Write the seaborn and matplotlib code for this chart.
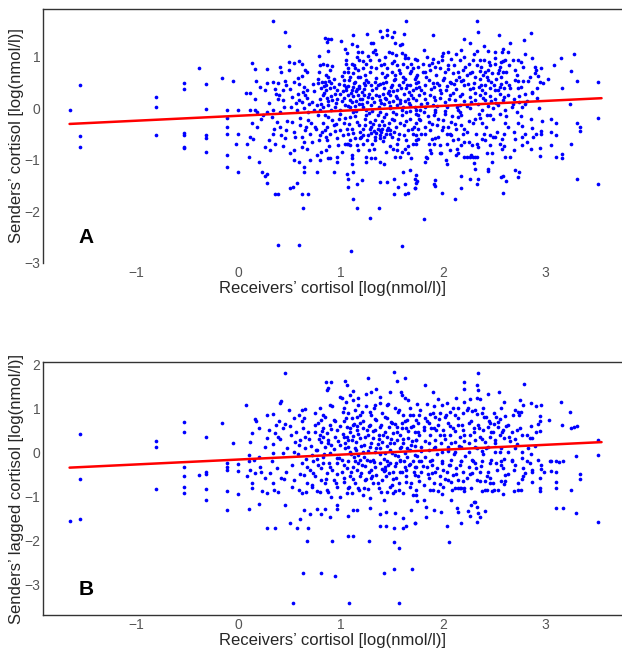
import numpy as np
import pandas as pd
import matplotlib
matplotlib.use("Agg")
import matplotlib.pyplot as plt
import seaborn as sns

# valores (x = cortisol receptor, y = cortisol emissor)
# painel A - pontos isolados a esquerda
a_left = [(-1.65,-0.03),(-1.55,0.46),(-1.55,-0.54),(-1.55,-0.74),(-0.81,0.23),(-0.81,0.03),(-0.81,-0.51),
          (-0.53,0.49),(-0.53,0.38),(-0.53,-0.47),(-0.53,-0.52),(-0.53,-0.74),(-0.53,-0.77),(-0.38,0.78),
          (-0.32,0.47),(-0.32,-0.01),(-0.32,-0.52),(-0.32,-0.57),(-0.32,-0.85),(-0.16,0.59),(-0.11,-0.02),
          (-0.11,-0.19),(-0.11,-0.35),(-0.11,-0.50),(-0.11,-0.90),(-0.11,-1.13),(-0.05,0.54),(0.0,-0.02),
          (0.0,-0.50),(0.0,-1.23),(-0.02,-0.69),(0.07,0.30)]
# painel A - metade superior, x de 0 a 1.8
a_upper_left = [(0.34,1.70),(0.46,1.49),(0.49,1.21),(0.13,0.89),(0.16,0.77),(0.49,0.91),(0.54,0.89),(0.59,0.92),
    (0.62,0.87),(0.28,0.76),(0.41,0.80),(0.42,0.71),(0.49,0.74),(0.65,0.74),(0.67,0.71),(0.17,0.54),(0.21,0.41),
    (0.26,0.36),(0.28,0.49),(0.34,0.52),(0.36,0.38),(0.37,0.29),(0.39,0.50),(0.40,0.26),(0.46,0.53),(0.47,0.45),
    (0.50,0.37),(0.54,0.52),(0.58,0.29),(0.59,0.47),(0.62,0.63),(0.64,0.42),(0.65,0.26),(0.67,0.36),(0.11,0.30),
    (0.16,0.18),(0.11,-0.03),(0.16,-0.03),(0.28,-0.06),(0.34,-0.02),(0.39,0.19),(0.41,-0.06),(0.44,0.16),(0.51,0.03),
    (0.57,-0.03),(0.59,0.17),(0.62,0.13),(0.64,0.00),(0.67,0.21),(0.68,-0.06),(0.79,1.02),(0.80,0.84),(0.79,0.71),
    (0.83,0.87),(0.87,0.84),(0.85,1.36),(0.87,1.29),(0.88,1.34),(0.91,1.35),(0.88,1.12),(0.90,0.74),(0.88,0.61),
    (0.78,0.49),(0.82,0.52),(0.85,0.52),(0.86,0.45),(0.89,0.54),(0.91,0.49),(0.81,0.39),(0.86,0.36),(0.90,0.39),
    (0.93,0.42),(0.94,0.29),(0.83,0.26),(0.80,0.19),(0.87,0.21),(0.92,0.16),(0.96,0.19),(0.77,0.06),(0.83,0.02),
    (0.88,0.06),(0.94,0.03),(0.74,-0.03),(0.80,-0.02),(0.91,-0.03),(0.99,-0.03),(1.00,1.31),(1.04,1.15),(1.06,1.07),
    (1.05,0.87),(1.07,0.78),(1.11,1.25),(1.12,1.42),(1.16,1.21),(1.17,1.10),(1.21,1.09),(1.16,1.00),(1.18,0.95),
    (1.11,0.86),(1.14,0.78),(1.01,0.63),(1.03,0.56),(1.07,0.71),(1.09,0.62),(1.12,0.68),(1.14,0.52),(1.17,0.74),
    (1.19,0.62),(1.22,0.78),(1.24,0.65),(1.03,0.45),(1.05,0.36),(1.07,0.43),(1.11,0.36),(1.12,0.41),(1.16,0.37),
    (1.18,0.43),(1.21,0.32),(1.23,0.49),(0.99,0.29),(1.03,0.21),(1.07,0.26),(1.09,0.17),(1.12,0.24),(1.15,0.15),
    (1.17,0.26),(1.21,0.19),(1.23,0.26),(1.04,0.06),(1.09,0.03),(1.14,0.05),(1.18,0.08),(1.22,0.03),(1.12,-0.06),
    (1.25,-0.03),(1.26,1.44),(1.30,1.28),(1.32,1.28),(1.34,1.13),(1.27,1.02),(1.29,0.95),(1.32,1.10),(1.35,1.05),
    (1.37,0.94),(1.25,0.87),(1.30,0.81),(1.35,0.78),(1.38,1.51),(1.45,1.52),(1.45,1.42),(1.52,1.49),(1.40,1.38),
    (1.50,1.39),(1.53,1.28),(1.58,1.24),(1.60,1.26),(1.47,1.09),(1.50,1.08),(1.54,1.04),(1.60,1.07),(1.63,1.04),
    (1.66,0.99),(1.69,0.87),(1.73,0.97),(1.64,1.70),(1.62,1.44),(1.42,0.87),(1.45,0.78),(1.50,0.89),(1.55,0.84),
    (1.61,0.87),(1.65,0.81),(1.71,0.78),(1.40,0.68),(1.43,0.62),(1.50,0.71),(1.53,0.65),(1.58,0.68),(1.63,0.58),
    (1.68,0.68),(1.74,0.62),(1.27,0.52),(1.30,0.45),(1.34,0.52),(1.35,0.39),(1.38,0.47),(1.42,0.39),(1.44,0.52),
    (1.47,0.34),(1.50,0.45),(1.52,0.55),(1.55,0.36),(1.57,0.45),(1.61,0.52),(1.64,0.39),(1.68,0.45),(1.71,0.36),
    (1.74,0.50),(1.28,0.29),(1.31,0.21),(1.35,0.26),(1.38,0.16),(1.41,0.29),(1.44,0.19),(1.48,0.26),(1.51,0.15),
    (1.54,0.24),(1.58,0.16),(1.62,0.28),(1.66,0.19),(1.69,0.26),(1.74,0.16),(1.30,0.06),(1.37,0.03),(1.42,0.08),
    (1.48,0.00),(1.55,0.06),(1.61,0.02),(1.68,0.06),(1.73,0.03),(1.38,-0.06),(1.51,-0.06),(1.64,-0.06)]
# painel A - metade inferior, x de 0 a 1.8
a_lower_left = [(0.08,-0.68),(0.10,-0.94),(0.11,-0.55),(0.14,-0.60),(0.13,-0.29),(0.18,-0.36),(0.20,-1.04),
    (0.23,-1.23),(0.26,-1.31),(0.28,-1.28),(0.28,-1.44),(0.36,-1.66),(0.39,-1.66),(0.50,-1.55),(0.53,-1.53),
    (0.57,-1.44),(0.62,-1.66),(0.68,-1.66),(0.63,-1.94),(0.64,-1.13),(0.64,-1.23),(0.70,-1.00),(0.77,-1.23),
    (0.93,-1.23),(0.26,-0.74),(0.31,-0.81),(0.36,-0.68),(0.44,-0.73),(0.50,-0.87),(0.54,-1.00),(0.59,-1.04),
    (0.46,-0.58),(0.54,-0.81),(0.62,-0.75),(0.67,-0.78),(0.77,-0.91),(0.80,-1.00),(0.81,-0.84),(0.86,-0.81),
    (0.88,-0.97),(0.90,-0.97),(0.96,-1.04),(0.96,-0.94),(1.06,-1.28),(1.07,-1.36),(1.07,-1.53),(1.11,-0.97),
    (1.11,-1.07),(1.12,-1.23),(1.12,-1.75),(1.16,-1.46),(1.16,-1.94),(1.21,-1.39),(1.25,-0.94),(1.25,-1.04),
    (1.29,-2.12),(1.30,-0.97),(1.34,-0.97),(1.37,-1.94),(1.38,-1.42),(1.38,-1.04),(1.42,-1.07),(1.45,-1.42),
    (1.52,-1.36),(1.52,-1.66),(1.53,-0.94),(1.56,-1.52),(1.58,-0.94),(1.61,-1.23),(1.63,-1.46),(1.63,-1.66),
    (1.66,-1.65),(1.68,-1.19),(1.69,-0.97),(1.73,-1.36),(1.73,-1.55),(1.74,-1.44),(1.66,-0.87),(1.60,-0.84),
    (1.63,-0.78),(1.51,-0.78),(1.55,-0.68),(1.71,-0.68),(1.74,-0.62),(0.18,-0.06),(0.24,-0.13),(0.33,-0.16),
    (0.38,-0.26),(0.41,-0.36),(0.34,-0.49),(0.42,-0.52),(0.47,-0.42),(0.52,-0.26),(0.54,-0.45),(0.60,-0.32),
    (0.62,-0.55),(0.65,-0.42),(0.68,-0.23),(0.70,-0.49),(0.72,-0.65),(0.75,-0.36),(0.78,-0.13),(0.80,-0.52),
    (0.83,-0.29),(0.85,-0.42),(0.87,-0.62),(0.88,-0.16),(0.90,-0.49),(0.93,-0.32),(0.96,-0.58),(0.98,-0.20),
    (0.99,-0.42),(1.03,-0.29),(1.04,-0.68),(1.06,-0.68),(1.07,-0.49),(1.09,-0.16),(1.11,-0.39),(1.14,-0.58),
    (1.16,-0.26),(1.17,-0.81),(1.19,-0.45),(1.22,-0.68),(1.24,-0.32),(1.25,-0.13),(1.27,-0.52),(1.29,-0.39),
    (1.31,-0.68),(1.34,-0.23),(1.35,-0.47),(1.37,-0.32),(1.38,-0.58),(1.40,-0.39),(1.41,-0.63),(1.42,-0.16),
    (1.44,-0.49),(1.47,-0.29),(1.48,-0.42),(1.50,-0.55),(1.52,-0.23),(1.54,-0.36),(1.57,-0.49),(1.60,-0.13),
    (1.62,-0.32),(1.64,-0.62),(1.66,-0.42),(1.68,-0.20),(1.71,-0.49),(1.74,-0.29),(1.76,-0.13),(1.30,-0.36),
    (1.33,-0.43),(1.36,-0.39),(1.39,-0.45),(1.42,-0.32),(1.45,-0.42),(1.48,-0.50),(1.38,-0.52),(1.34,-0.55),
    (1.29,-0.26),(1.07,-0.68),(1.09,-0.71),(1.22,-0.52),(1.19,-0.58),(0.39,-2.66),(0.59,-2.66),(1.10,-2.77),
    (1.60,-2.67)]
# painel A - x de 1.7 a 3.6
a_upper_right = [(2.33,1.70),(2.34,1.49),(1.90,1.42),(2.21,1.35),(2.26,1.28),(2.55,1.42),(2.86,1.46),(2.79,1.33),
    (2.66,1.28),(2.40,1.22),(2.33,1.12),(2.44,1.12),(2.51,1.09),(2.59,1.16),(2.58,1.09),(2.64,1.09),(2.80,1.06),
    (2.87,0.98),(3.15,0.98),(3.28,1.05),(3.09,0.84),(3.25,0.73),(3.31,0.53),(3.52,0.51),(3.03,0.58),(3.16,0.39),
    (3.24,0.08),(2.94,0.00),(2.73,0.94),(2.76,0.90),(2.90,0.81),(2.91,0.74),(2.96,0.78),(2.90,0.68),(2.93,0.63),
    (2.95,0.52),(2.92,0.39),(2.87,0.32),(2.83,0.54),(2.78,0.54),(2.73,0.54),(2.76,0.41),(2.73,0.39),(2.70,0.55),
    (2.70,0.74),(2.65,0.84),(2.61,0.94),(2.57,0.90),(2.56,0.81),(2.59,0.71),(2.54,0.68),(2.51,0.87),(2.46,0.84),
    (2.41,0.71),(2.44,0.74),(2.37,0.80),(2.36,0.94),(2.29,0.94),(2.25,0.87),(2.21,1.00),(2.18,1.13),(2.13,1.05),
    (2.08,0.97),(2.05,1.10),(2.00,1.08),(1.99,0.94),(1.95,0.90),(1.90,0.97),(1.89,0.89),(1.84,1.00),(1.81,1.13),
    (1.80,0.87),(1.75,0.94),(1.76,0.81),(1.82,0.71),(1.87,0.74),(1.92,0.80),(1.97,0.78),(2.02,0.71),(2.05,0.76),
    (2.10,0.68),(2.15,0.71),(2.20,0.74),(2.23,0.65),(2.28,0.71),(2.31,0.62),(2.36,0.58),(2.39,0.65),(2.44,0.56),
    (2.47,0.52),(2.52,0.58),(2.57,0.62),(2.62,0.52),(2.65,0.45),(2.60,0.39),(2.56,0.41),(2.51,0.36),(2.46,0.39),
    (2.41,0.45),(2.38,0.36),(2.35,0.42),(2.30,0.50),(2.26,0.37),(2.21,0.45),(2.18,0.54),(2.13,0.55),(2.11,0.47),
    (2.07,0.52),(2.04,0.43),(2.00,0.55),(1.97,0.36),(1.94,0.50),(1.91,0.42),(1.86,0.55),(1.82,0.45),(1.79,0.36),
    (1.76,0.52),(1.74,0.39),(1.77,0.26),(1.82,0.19),(1.87,0.26),(1.92,0.16),(1.97,0.21),(2.02,0.13),(2.07,0.26),
    (2.12,0.17),(2.17,0.24),(2.21,0.15),(2.26,0.23),(2.31,0.17),(2.36,0.26),(2.41,0.17),(2.46,0.24),(2.51,0.19),
    (2.56,0.28),(2.59,0.16),(2.64,0.26),(2.69,0.19),(2.74,0.24),(2.80,0.28),(2.87,0.30),(2.77,0.03),(2.67,0.03),
    (2.49,0.00),(2.38,-0.03),(2.26,0.00),(2.15,-0.03),(2.04,0.03),(1.92,-0.03),(1.82,0.03),(1.78,-0.03),(2.17,0.06),
    (2.54,0.06),(2.61,-0.03),(2.72,-0.06),(2.80,0.08),(1.90,0.06)]
a_lower_right = [(3.52,-0.18),(3.34,-0.36),(3.34,-0.43),(3.31,-0.29),(3.25,-0.68),(3.16,-0.89),(3.16,-0.97),
    (3.10,-0.94),(3.10,-0.52),(3.06,-0.21),(3.10,-0.29),(3.06,-0.45),(3.06,-0.70),(2.95,-0.76),(2.95,-0.93),
    (2.96,-0.43),(2.96,-0.49),(2.91,-0.50),(2.87,-0.37),(2.86,-0.20),(2.86,-0.78),(2.82,-0.66),(2.80,-0.49),
    (2.77,-0.34),(2.77,-0.55),(2.77,-0.70),(2.73,-0.29),(2.69,-0.45),(2.69,-0.80),(2.66,-0.94),(2.61,-0.94),
    (2.60,-0.73),(2.58,-0.78),(2.56,-0.68),(2.60,-0.49),(2.61,-0.29),(2.62,-0.15),(2.49,-0.56),(2.46,-0.51),
    (2.43,-0.87),(2.48,-1.04),(2.44,-1.17),(2.44,-1.21),(2.41,-0.62),(2.40,-0.49),(2.34,-0.74),(2.33,-0.68),
    (2.31,-0.94),(2.30,-1.06),(2.31,-1.17),(2.34,-1.36),(2.33,-1.47),(2.26,-1.36),(2.27,-0.91),(2.23,-0.94),
    (2.25,-0.65),(2.23,-0.45),(2.21,-0.65),(2.18,-0.71),(2.18,-1.31),(2.18,-1.55),(2.15,-0.87),(2.14,-0.78),
    (2.12,-1.75),(2.08,-0.52),(2.07,-0.49),(2.04,-1.07),(2.03,-1.00),(1.99,-1.65),(1.97,-0.87),(1.92,-1.39),
    (1.91,-1.46),(1.92,-1.51),(1.83,-0.94),(1.82,-1.04),(1.81,-2.14),(1.74,-1.30),(1.75,-1.40),(1.73,-1.55),
    (2.59,-1.31),(2.57,-1.33),(2.62,-1.40),(2.59,-1.65),(2.70,-1.20),(2.74,-1.23),(2.73,-1.33),(3.31,-1.36),
    (3.52,-1.47),(2.48,-0.87),(2.51,-0.56),(2.38,-0.29),(2.36,-0.18),(2.43,-0.13),(2.46,-0.13),(2.31,-0.21),
    (2.29,-0.29),(1.74,-0.10),(1.77,-0.20),(1.76,-0.39),(1.74,-0.52),(1.74,-0.68),(1.79,-0.49),(1.81,-0.07),
    (1.82,-0.36),(1.86,-0.26),(1.87,-0.42),(1.86,-0.68),(1.89,-0.60),(1.91,-0.13),(1.92,-0.07),(1.94,-0.32),
    (1.95,-0.55),(1.99,-0.42),(2.00,-0.23),(2.02,-0.10),(2.04,-0.68),(2.05,-0.36),(2.08,-0.26),(2.10,-0.62),
    (2.13,-0.39),(2.15,-0.16),(2.17,-0.07),(2.18,-0.32),(2.20,-0.50),(1.88,-0.86),(1.84,-0.97),(1.91,-0.68),
    (1.98,-0.87),(2.13,-0.91),(2.21,-0.94),(2.26,-0.94),(2.29,-0.94),(2.33,-0.95)]
# painel A - pontos adicionais no nucleo denso
a_core = [(0.72,0.12),(0.74,0.33),(0.76,-0.40),(0.78,0.58),(0.79,-0.62),(0.71,-0.28),(0.73,0.47),
    (0.81,0.08),(0.82,-0.45),(0.84,0.31),(0.85,-0.12),(0.86,0.66),(0.87,-0.35),(0.88,0.14),(0.89,-0.72),(0.84,0.44),
    (0.86,-0.55),(0.91,0.25),(0.92,-0.22),(0.93,0.58),(0.94,-0.44),(0.95,0.10),(0.96,0.35),(0.97,-0.70),(0.98,0.47),
    (0.99,-0.10),(0.92,0.82),(0.95,-0.30),(1.01,0.15),(1.02,-0.52),(1.03,0.70),(1.04,-0.18),(1.05,0.42),(1.06,-0.40),
    (1.07,0.05),(1.08,0.55),(1.09,-0.62),(1.10,0.30),(1.01,-0.85),(1.05,0.95),(1.08,-0.30),(1.02,0.33),(1.11,0.12),
    (1.12,-0.48),(1.13,0.50),(1.14,-0.15),(1.15,0.33),(1.16,-0.70),(1.17,0.62),(1.18,-0.32),(1.19,0.18),(1.20,-0.55),
    (1.13,0.85),(1.15,-0.05),(1.18,0.40),(1.11,-0.90),(1.21,0.08),(1.22,-0.40),(1.23,0.38),(1.24,-0.20),(1.25,0.55),
    (1.26,-0.62),(1.27,0.22),(1.28,-0.08),(1.29,0.70),(1.30,-0.48),(1.22,0.92),(1.26,0.12),(1.28,-0.80),(1.24,0.45),
    (1.31,0.35),(1.32,-0.30),(1.33,0.12),(1.34,-0.62),(1.35,0.60),(1.36,-0.12),(1.37,0.25),(1.38,-0.42),(1.39,0.85),
    (1.40,-0.25),(1.33,-0.78),(1.36,0.45),(1.31,-0.05),(1.39,0.10),(1.41,0.50),(1.42,-0.55),(1.43,0.20),(1.44,-0.10),
    (1.45,0.65),(1.46,-0.38),(1.47,0.12),(1.48,-0.72),(1.49,0.42),(1.50,-0.20),(1.43,1.00),(1.46,0.30),(1.44,-0.85),
    (1.48,0.05),(1.51,0.33),(1.52,-0.45),(1.53,0.58),(1.54,-0.10),(1.55,0.20),(1.56,-0.60),(1.57,0.75),(1.58,-0.28),
    (1.59,0.40),(1.60,-0.02),(1.52,0.92),(1.55,-0.80),(1.58,0.10),(1.61,0.62),(1.62,-0.52),(1.63,0.15),(1.64,-0.25),
    (1.65,0.45),(1.66,-0.72),(1.67,0.32),(1.68,-0.05),(1.69,0.72),(1.70,-0.40),(1.63,0.98),(1.67,0.10),(1.71,0.20),
    (1.72,-0.35),(1.73,0.58),(1.74,-0.02),(1.75,0.66),(1.76,-0.60),(1.77,0.42),(1.78,-0.22),(1.79,0.08),(1.80,0.70),
    (1.81,0.30),(1.82,-0.50),(1.83,0.62),(1.84,0.10),(1.85,-0.15),(1.86,0.85),(1.87,-0.80),(1.88,0.38),(1.89,-0.30),
    (1.90,0.50),(1.91,0.22),(1.92,-0.58),(1.93,0.65),(1.94,0.05),(1.95,-0.20),(1.96,0.45),(1.97,-0.70),(1.98,0.30),
    (1.99,1.02),(2.00,-0.35),(2.01,0.60),(2.02,-0.05),(2.03,0.36),(2.04,-0.50),(2.05,0.85),(2.06,0.18),(2.07,-0.80),
    (2.08,0.50),(2.09,-0.15),(2.10,0.30),(2.11,0.85),(2.12,-0.30),(2.13,0.38),(2.14,0.02),(2.15,-0.60),(2.16,0.62),
    (2.17,0.95),(2.18,-0.12),(2.19,0.28),(2.20,0.55),(2.21,-0.40),(2.22,0.80),(2.23,0.05),(2.24,0.48),(2.25,-0.25),
    (2.26,0.68),(2.27,0.12),(2.28,-0.70),(2.29,0.40),(2.30,1.05),(2.31,0.30),(2.32,-0.50),(2.33,0.85),(2.34,0.08),
    (2.35,-0.10),(2.36,0.72),(2.37,0.45),(2.38,-0.60),(2.39,0.20),(2.40,0.95),(2.41,0.30),(2.42,-0.35),(2.43,0.62),
    (2.44,0.05),(2.45,0.90),(2.46,-0.70),(2.47,0.15),(2.48,0.68),(2.49,-0.20),(2.50,0.45),(2.51,0.98),(2.52,0.10),
    (2.53,-0.45),(2.54,0.35),(2.55,0.75),(2.56,-0.10),(2.57,0.48),(2.58,-0.60),(2.59,0.92),(2.60,0.22),(2.62,0.70),
    (2.64,-0.35),(2.66,0.40),(2.68,0.08),(2.70,-0.60),(2.72,0.65),(2.74,0.12),(2.76,-0.15),(2.78,0.80),(2.68,0.95),
    (2.82,0.15),(2.85,0.62),(2.88,-0.55),(2.92,0.20),(2.97,-0.25),(2.98,0.50),(0.22,-0.20),(0.30,0.10),(0.35,-0.40),
    (0.45,0.02),(0.48,-0.25),(0.52,0.22),(0.55,-0.55),(0.58,0.60),(0.60,-0.18),(0.63,0.32),(0.66,-0.35),(0.69,0.08),
    (0.30,-0.62),(0.44,0.35),(0.56,0.10),(0.64,-0.65)]

# painel B - pontos isolados a esquerda
b_left = [(-1.65,-1.57),(-1.55,0.42),(-1.55,-0.61),(-1.55,-1.51),(-0.81,0.25),(-0.81,0.11),(-0.81,-0.83),
          (-0.53,0.69),(-0.53,0.45),(-0.53,-0.33),(-0.53,-0.55),(-0.53,-0.80),(-0.53,-0.92),(-0.38,-0.52),
          (-0.32,0.34),(-0.32,-0.45),(-0.32,-0.50),(-0.32,-0.83),(-0.32,-1.09),(-0.16,0.67),(-0.11,-0.25),
          (-0.11,-0.33),(-0.11,-0.41),(-0.11,-0.88),(-0.11,-1.31),(-0.05,0.20),(0.0,-0.27),(0.0,-0.42),
          (0.0,-0.96),(0.07,1.07)]
b_upper_left = [(0.46,1.81),(0.16,0.76),(0.17,0.71),(0.20,0.54),(0.13,0.43),(0.11,0.23),(0.10,-0.06),(0.28,0.33),
    (0.28,0.85),(0.34,0.86),(0.37,0.62),(0.36,0.43),(0.39,0.35),(0.34,0.18),(0.41,1.13),(0.42,1.17),(0.41,0.30),
    (0.46,0.64),(0.44,0.56),(0.49,0.96),(0.51,0.39),(0.54,0.77),(0.55,0.24),(0.59,0.85),(0.62,0.96),(0.65,0.98),
    (0.64,0.77),(0.62,0.71),(0.68,0.47),(0.65,0.35),(0.60,0.28),(0.59,0.17),(0.54,0.00),(0.44,-0.02),(0.34,-0.02),
    (0.26,0.11),(0.20,-0.10),(0.15,-0.18),(0.10,-0.21),(0.75,0.89),(0.80,1.00),(0.81,0.73),(0.86,1.59),(0.91,1.59),
    (0.87,1.42),(0.88,1.45),(0.90,1.08),(0.83,0.85),(0.78,0.66),(0.75,0.47),(0.80,0.39),(0.83,0.54),(0.87,0.43),
    (0.90,0.62),(0.93,0.73),(0.81,0.24),(0.85,0.13),(0.88,0.28),(0.91,0.17),(0.94,0.35),(0.96,0.51),(0.99,0.17),
    (0.77,0.05),(0.83,-0.10),(0.90,-0.02),(0.96,-0.14),(0.72,-0.06),(0.65,0.09),(0.99,1.26),(1.01,1.23),(1.04,1.62),
    (1.06,1.53),(1.05,1.15),(1.09,1.30),(1.12,1.39),(1.12,1.19),(1.17,1.23),(1.03,1.00),(1.07,0.89),(1.11,0.77),
    (1.14,0.96),(1.17,1.07),(1.16,0.81),(1.21,0.92),(1.03,0.70),(1.06,0.58),(1.09,0.47),(1.12,0.62),(1.16,0.51),
    (1.19,0.66),(1.22,0.54),(1.03,0.35),(1.07,0.28),(1.12,0.38),(1.15,0.23),(1.19,0.32),(1.23,0.17),(1.04,0.09),
    (1.09,0.00),(1.14,0.09),(1.17,-0.06),(1.22,0.01),(1.27,1.68),(1.25,1.32),(1.25,1.04),(1.30,1.36),(1.35,1.44),
    (1.38,1.26),(1.34,1.07),(1.38,1.11),(1.30,0.85),(1.35,0.73),(1.40,0.89),(1.45,1.07),(1.48,1.38),(1.52,1.82),
    (1.55,1.62),(1.59,1.38),(1.60,1.30),(1.63,1.68),(1.63,1.23),(1.66,1.19),(1.68,1.00),(1.53,1.00),(1.56,0.92),
    (1.61,0.85),(1.65,0.73),(1.71,0.85),(1.74,0.73),(1.45,0.77),(1.50,0.66),(1.55,0.58),(1.60,0.66),(1.64,0.54),
    (1.69,0.58),(1.73,0.47),(1.29,0.62),(1.34,0.51),(1.38,0.58),(1.43,0.47),(1.27,0.39),(1.32,0.32),(1.37,0.39),
    (1.40,0.24),(1.45,0.35),(1.48,0.20),(1.51,0.43),(1.55,0.28),(1.58,0.39),(1.61,0.20),(1.66,0.32),(1.69,0.17),
    (1.74,0.28),(1.29,0.13),(1.34,0.01),(1.38,0.09),(1.43,-0.02),(1.48,0.05),(1.53,-0.06),(1.58,0.09),(1.63,-0.02),
    (1.68,0.05),(1.73,-0.06),(1.32,-0.17),(1.45,-0.21),(1.58,-0.17),(1.71,-0.21),(1.19,-0.17)]
b_lower_left = [(0.10,-1.30),(0.20,-1.18),(0.28,-1.73),(0.36,-1.73),(0.50,-1.60),(0.57,-1.73),(0.60,-1.51),
    (0.64,-1.31),(0.67,-2.01),(0.68,-1.73),(0.70,-1.41),(0.77,-1.30),(0.81,-1.40),(0.85,-1.30),(0.90,-1.48),
    (0.92,-2.01),(0.96,-1.30),(0.96,-1.20),(1.07,-1.45),(1.07,-1.90),(1.12,-1.90),(1.12,-1.31),(1.16,-1.31),
    (1.28,-2.01),(1.29,-1.27),(1.38,-1.40),(1.38,-1.67),(1.44,-1.67),(1.44,-1.35),(1.52,-2.05),(1.52,-1.73),
    (1.53,-1.39),(1.57,-2.18),(1.61,-1.50),(1.61,-1.73),(1.64,-1.67),(1.69,-1.31),(1.73,-1.60),(1.52,-2.65),
    (1.70,-2.65),(0.46,-1.20),(0.39,-0.91),(0.28,-0.93),(0.23,-0.87),(0.13,-0.82),(0.13,-0.69),(0.08,-0.54),
    (0.11,-0.40),(0.16,-0.48),(0.21,-0.33),(0.26,-0.59),(0.31,-0.48),(0.34,-0.71),(0.38,-0.36),(0.42,-0.59),
    (0.47,-0.44),(0.52,-0.78),(0.54,-0.63),(0.59,-0.86),(0.62,-0.93),(0.64,-0.52),(0.67,-0.71),(0.70,-0.40),
    (0.72,-0.74),(0.75,-0.55),(0.77,-0.87),(0.80,-0.90),(0.81,-0.63),(0.85,-0.71),(0.87,-0.48),(0.88,-0.90),
    (0.91,-1.01),(0.93,-0.63),(0.96,-0.78),(0.99,-1.01),(1.01,-0.44),(1.03,-0.67),(1.06,-0.93),(1.07,-0.82),
    (1.09,-0.55),(1.11,-0.93),(1.14,-0.71),(1.17,-0.82),(1.20,-0.48),(1.22,-0.97),(1.24,-0.63),(1.27,-0.84),
    (1.29,-1.05),(1.30,-0.59),(1.32,-0.71),(1.35,-0.52),(1.37,-0.82),(1.40,-0.63),(1.42,-1.08),(1.45,-0.90),
    (1.47,-0.48),(1.50,-0.74),(1.51,-0.93),(1.54,-0.59),(1.57,-0.86),(1.60,-0.44),(1.61,-0.93),(1.64,-0.67),
    (1.68,-0.78),(1.71,-0.97),(1.73,-0.52),(1.74,-0.86),(0.62,-0.25),(0.67,-0.33),(0.73,-0.21),(0.78,-0.29),
    (0.83,-0.24),(0.90,-0.33),(0.96,-0.25),(1.03,-0.29),(1.07,-0.21),(1.12,-0.33),(1.17,-0.25),(1.24,-0.31),
    (1.29,-0.21),(1.34,-0.34),(1.38,-0.25),(1.43,-0.33),(1.48,-0.24),(1.53,-0.31),(1.58,-0.21),(1.63,-0.34),
    (1.68,-0.27),(1.73,-0.33),(1.30,-0.40),(1.42,-0.42),(1.51,-0.44),(1.64,-0.40),(0.63,-2.74),(0.53,-3.43),
    (1.08,-3.43),(1.57,-3.43),(1.42,-2.74),(0.81,-2.74),(0.94,-2.82)]
b_upper_right = [(2.34,1.81),(2.21,1.59),(2.21,1.44),(2.33,1.53),(2.34,1.42),(2.79,1.56),(2.55,1.38),(2.44,1.32),
    (1.90,1.38),(1.82,1.53),(2.33,1.23),(2.36,1.20),(2.26,1.20),(2.21,1.15),(2.13,1.23),(2.04,1.11),(1.99,1.07),
    (1.91,1.04),(1.84,1.09),(1.75,1.09),(2.60,1.15),(2.75,1.19),(2.78,1.07),(2.86,1.11),(2.91,1.06),(2.96,1.07),
    (3.15,1.14),(3.24,0.92),(3.16,0.62),(3.25,0.54),(3.28,0.58),(3.31,0.60),(3.04,0.73),(2.95,0.83),(2.93,0.64),
    (2.86,0.60),(2.91,0.47),(2.95,0.48),(2.85,0.33),(2.87,0.33),(2.73,0.92),(2.76,0.92),(2.74,0.85),(2.70,0.96),
    (2.61,0.83),(2.57,1.00),(2.56,0.76),(2.52,0.81),(2.50,0.64),(2.46,0.66),(2.42,0.81),(2.39,1.00),(2.38,0.89),
    (2.33,0.86),(2.28,0.94),(2.24,1.01),(2.20,0.89),(2.15,1.00),(2.12,0.85),(2.07,0.92),(2.02,0.81),(1.97,0.89),
    (1.92,0.79),(1.87,0.86),(1.82,0.77),(1.77,0.85),(1.76,0.66),(1.81,0.58),(1.86,0.66),(1.91,0.54),(1.95,0.62),
    (2.00,0.51),(2.05,0.66),(2.10,0.54),(2.15,0.62),(2.20,0.51),(2.25,0.66),(2.30,0.54),(2.34,0.62),(2.39,0.51),
    (2.44,0.58),(2.49,0.47),(2.54,0.58),(2.59,0.51),(2.64,0.62),(2.67,0.47),(2.72,0.51),(2.77,0.39),(2.70,0.30),
    (2.65,0.35),(2.60,0.32),(2.56,0.39),(2.51,0.28),(2.46,0.35),(2.41,0.24),(2.36,0.35),(2.31,0.28),(2.26,0.39),
    (2.21,0.26),(2.17,0.35),(2.12,0.24),(2.07,0.39),(2.02,0.30),(1.97,0.39),(1.92,0.28),(1.87,0.39),(1.82,0.26),
    (1.77,0.39),(1.74,0.28),(1.79,0.13),(1.86,0.05),(1.92,0.13),(1.99,0.01),(2.05,0.11),(2.12,0.00),(2.18,0.11),
    (2.25,0.01),(2.31,0.13),(2.38,0.03),(2.44,0.11),(2.51,0.00),(2.57,0.09),(2.64,0.00),(2.70,0.09),(2.77,0.01),
    (2.83,0.09),(2.93,-0.17),(2.86,-0.05),(3.06,-0.21),(3.13,-0.23),(3.30,-0.08),(3.52,0.27),(3.52,-0.06),
    (2.77,-0.14),(2.67,-0.17),(2.57,-0.21),(2.47,-0.17),(2.38,-0.21),(2.28,-0.17),(2.18,-0.21),(2.08,-0.17),
    (1.99,-0.21),(1.89,-0.17),(1.79,-0.21)]
b_lower_right = [(3.52,-1.58),(3.34,-0.50),(3.34,-0.61),(3.30,-1.39),(3.25,-0.86),(3.17,-1.27),(3.10,-1.27),
    (3.10,-0.82),(3.10,-0.67),(3.10,-0.46),(3.06,-0.43),(3.05,-0.21),(3.17,-0.21),(3.10,-0.21),(2.95,-0.89),
    (2.95,-0.82),(2.95,-0.59),(2.96,-0.39),(2.96,-0.29),(2.87,-0.67),(2.87,-0.40),(2.87,-0.44),(2.82,-0.21),
    (2.80,-0.48),(2.78,-0.36),(2.77,-0.61),(2.76,-0.86),(2.73,-0.86),(2.73,-0.71),(2.69,-0.89),(2.69,-0.40),
    (2.67,-0.21),(2.61,-0.52),(2.61,-0.65),(2.60,-0.72),(2.59,-0.95),(2.59,-0.36),(2.57,-0.29),(2.52,-0.25),
    (2.50,-0.86),(2.48,-0.89),(2.46,-0.71),(2.46,-0.59),(2.44,-0.44),(2.41,-0.65),(2.41,-1.33),(2.43,-0.86),
    (2.38,-0.87),(2.37,-0.31),(2.36,-1.48),(2.34,-1.39),(2.33,-1.58),(2.31,-1.12),(2.33,-1.24),(2.30,-1.12),
    (2.27,-1.21),(2.27,-0.82),(2.26,-1.45),(2.24,-1.33),(2.21,-0.82),(2.21,-0.87),(2.18,-0.82),(2.17,-0.82),
    (2.15,-0.82),(2.15,-1.35),(2.14,-1.26),(2.18,-1.60),(2.08,-1.08),(2.08,-0.67),(2.04,-1.67),(2.06,-2.05),
    (1.98,-1.36),(1.99,-0.95),(1.95,-0.89),(1.91,-1.31),(1.90,-0.86),(1.83,-1.24),(1.83,-1.48),(1.81,-1.08),
    (1.75,-1.10),(1.74,-0.97),(1.73,-1.60),(2.54,-0.86),(2.41,-0.86),(1.74,-0.33),(1.77,-0.21),(1.76,-0.55),
    (1.79,-0.44),(1.81,-0.74),(1.84,-0.33),(1.86,-0.59),(1.87,-0.21),(1.89,-0.48),(1.91,-0.71),(1.94,-0.36),
    (1.97,-0.55),(1.99,-0.25),(2.00,-0.78),(2.04,-0.44),(2.05,-0.63),(2.07,-0.29),(2.10,-0.52),(2.12,-0.82),
    (2.13,-0.36),(2.15,-0.63),(2.18,-0.21),(2.20,-0.44),(2.23,-0.59),(2.25,-0.33),(2.28,-0.48),(2.31,-0.25),
    (2.33,-0.63),(2.36,-0.44)]
# painel B - pontos adicionais no nucleo denso
b_core = [(0.71,0.15),(0.73,-0.48),(0.75,0.62),(0.77,-0.15),(0.79,0.30),(0.72,-0.80),(0.76,0.05),
    (0.81,-0.35),(0.82,0.48),(0.84,-0.05),(0.85,0.80),(0.86,-0.60),(0.88,0.20),(0.89,-0.25),(0.83,0.35),(0.87,-0.85),
    (0.91,0.52),(0.92,-0.40),(0.93,0.08),(0.94,0.70),(0.95,-0.70),(0.97,0.25),(0.98,-0.12),(0.99,0.60),(0.92,1.05),
    (0.96,-0.50),(1.01,-0.18),(1.02,0.42),(1.03,-0.58),(1.04,0.22),(1.05,0.78),(1.06,-0.35),(1.07,0.12),(1.08,-0.78),
    (1.09,0.55),(1.10,-0.05),(1.02,0.92),(1.06,0.35),(1.10,-0.45),(1.11,0.28),(1.12,-0.60),(1.13,0.65),(1.14,-0.20),
    (1.15,0.05),(1.16,-0.40),(1.17,0.42),(1.18,-0.85),(1.19,0.85),(1.20,0.15),(1.13,-0.10),(1.16,0.60),(1.19,-0.55),
    (1.21,-0.30),(1.22,0.70),(1.23,-0.10),(1.24,0.35),(1.25,-0.60),(1.26,0.50),(1.27,0.02),(1.28,-0.45),(1.29,0.92),
    (1.30,0.20),(1.23,-0.82),(1.26,-0.18),(1.28,0.60),(1.31,-0.55),(1.32,0.48),(1.33,-0.22),(1.34,0.75),(1.35,0.10),
    (1.36,-0.70),(1.37,0.30),(1.38,-0.05),(1.39,0.62),(1.40,-0.38),(1.33,1.00),(1.36,0.18),(1.39,-0.90),(1.41,0.40),
    (1.42,-0.15),(1.43,0.80),(1.44,-0.55),(1.45,0.15),(1.46,-0.30),(1.47,0.58),(1.48,-0.80),(1.49,0.30),(1.50,-0.02),
    (1.43,-0.40),(1.46,1.10),(1.49,0.68),(1.51,-0.60),(1.52,0.22),(1.53,0.65),(1.54,-0.25),(1.55,0.45),(1.56,-0.08),
    (1.57,0.95),(1.58,-0.45),(1.59,0.12),(1.60,0.55),(1.53,-0.88),(1.57,-0.70),(1.61,0.30),(1.62,-0.20),(1.63,0.70),
    (1.64,-0.55),(1.65,0.10),(1.66,0.48),(1.67,-0.30),(1.68,0.85),(1.69,-0.70),(1.70,0.25),(1.65,-0.10),(1.71,0.60),
    (1.72,-0.45),(1.73,0.15),(1.75,-0.08),(1.76,0.45),(1.77,-0.65),(1.78,0.95),(1.79,0.02),(1.80,-0.32),(1.81,0.50),
    (1.82,-0.10),(1.84,0.70),(1.85,-0.50),(1.86,0.20),(1.87,-0.85),(1.88,0.55),(1.89,-0.30),(1.90,0.90),(1.91,0.10),
    (1.92,-0.45),(1.93,0.50),(1.94,-0.05),(1.96,0.75),(1.97,-0.72),(1.98,0.22),(2.00,-0.40),(1.95,1.20),(2.01,0.40),
    (2.02,-0.60),(2.03,0.85),(2.05,0.02),(2.06,-0.30),(2.07,0.60),(2.08,0.20),(2.09,-0.85),(2.10,1.00),(2.11,-0.05),
    (2.12,0.48),(2.13,-0.50),(2.15,0.78),(2.16,0.15),(2.17,-0.30),(2.19,0.62),(2.20,-0.65),(2.21,0.40),(2.22,-0.08),
    (2.23,0.95),(2.25,0.20),(2.26,-0.50),(2.27,0.72),(2.29,-0.20),(2.30,0.45),(2.31,0.95),(2.32,-0.35),(2.33,0.10),
    (2.35,0.55),(2.36,-0.65),(2.38,0.30),(2.39,-0.05),(2.40,0.80),(2.42,0.10),(2.43,-0.55),(2.45,0.72),(2.46,-0.25),
    (2.47,0.45),(2.49,-0.70),(2.50,0.90),(2.51,0.22),(2.53,-0.40),(2.54,0.68),(2.56,0.00),(2.57,-0.65),(2.58,0.45),
    (2.60,-0.15),(2.62,0.60),(2.64,-0.50),(2.66,0.25),(2.68,0.85),(2.70,-0.30),(2.72,0.18),(2.75,0.55),(2.78,-0.55),
    (2.82,0.40),(2.85,-0.25),(2.90,0.15),(2.95,0.70),(2.99,-0.45),(0.22,-0.45),(0.30,0.50),(0.33,-0.20),(0.40,0.70),
    (0.45,-0.60),(0.48,0.10),(0.52,-0.30),(0.56,0.45),(0.60,-0.50),(0.63,0.55),(0.66,-0.15),(0.69,0.30),(0.35,-0.85),
    (0.50,0.60),(0.58,-0.05),(0.66,-0.90)]

# reta de regressao (extremos)
fit_x = [-1.65, 3.55]
fit_a_y = [-0.30, 0.20]
fit_b_y = [-0.35, 0.23]

x_label = "Receivers\u2019 cortisol [log(nmol/l)]"
y_label_a = "Senders\u2019 cortisol [log(nmol/l)]"
y_label_b = "Senders\u2019 lagged cortisol [log(nmol/l)]"

sns.set_style("white")
plt.rcParams['font.family'] = ['Liberation Sans', 'DejaVu Sans']

df_a = pd.DataFrame(a_left + a_upper_left + a_lower_left + a_upper_right + a_lower_right + a_core,
                    columns=["x", "y"])
df_b = pd.DataFrame(b_left + b_upper_left + b_lower_left + b_upper_right + b_lower_right + b_core,
                    columns=["x", "y"])

fig = plt.figure(figsize=(6.22, 6.5), dpi=100)
ax_a = fig.add_axes([0.0691, 0.5954, 0.9309, 0.3906])
ax_b = fig.add_axes([0.0691, 0.0538, 0.9309, 0.3892])

def painel(ax, df, fit_y, ylabel, letra, ylim, yticks, bottom_spine):
    sns.scatterplot(data=df, x="x", y="y", ax=ax, color="#0000ff", s=7, linewidth=0)
    sns.lineplot(x=fit_x, y=fit_y, ax=ax, color="#ff0000", linewidth=1.8)
    ax.set_xlim(-1.91, 3.75)
    ax.set_ylim(*ylim)
    ax.set_xticks([-1, 0, 1, 2, 3])
    ax.set_yticks(yticks)
    ax.tick_params(length=0, labelsize=10, labelcolor="#555555", pad=2)
    ax.set_xlabel(x_label, fontsize=12, labelpad=1)
    ax.set_ylabel(ylabel, fontsize=12, labelpad=0)
    for s in ["top", "left", "bottom"]:
        ax.spines[s].set_color("#333333")
        ax.spines[s].set_linewidth(1.0)
    ax.spines["right"].set_visible(False)
    ax.spines["bottom"].set_visible(bottom_spine)
    ax.text(0.075, 0.10, letra, transform=ax.transAxes, fontsize=15, fontweight="bold",
            ha="center", va="center", color="black")

painel(ax_a, df_a, fit_a_y, y_label_a, "A", (-3.0, 1.93), [-3, -2, -1, 0, 1], False)
painel(ax_b, df_b, fit_b_y, y_label_b, "B", (-3.7, 2.05), [-3, -2, -1, 0, 1, 2], True)

plt.savefig("out.png", dpi=100)
